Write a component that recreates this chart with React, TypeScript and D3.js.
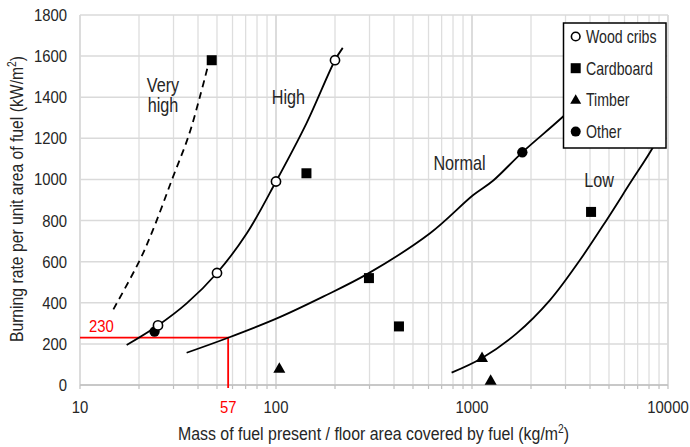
import React from "react";
import * as d3 from "d3";

const W = 690;
const H = 447;

// Tick labels
const xTicks = [10, 100, 1000, 10000];
const yTicks = [0, 200, 400, 600, 800, 1000, 1200, 1400, 1600, 1800];

// Data series (markers)
const woodCribsX = [25, 50, 100, 200];
const woodCribsY = [290, 545, 990, 1580];
const cardboardX = [47, 143, 298, 424, 4050];
const cardboardY = [1580, 1030, 520, 285, 842];
const timberX = [104, 1125, 1245];
const timberY = [80, 132, 22];
const otherX = [24, 1806];
const otherY = [260, 1132];

// Fire-load curves
const veryHighCurve: [number, number][] = [
  [14.8, 368], [20.2, 608], [24.1, 778], [29.4, 997], [35.7, 1208], [40.9, 1402], [45.3, 1565],
];
const highCurve: [number, number][] = [
  [17.3, 195], [25, 290], [35, 397], [50, 545], [71, 738], [100, 990], [143, 1273], [200, 1580], [219, 1640],
];
const normalCurve: [number, number][] = [
  [35, 157], [57, 230], [101, 324], [174, 430], [296, 543], [611, 738], [1015, 924], [1284, 995], [1806, 1132], [2870, 1300], [4200, 1450],
];
const lowCurve: [number, number][] = [
  [787, 60], [1121, 130], [1690, 251], [2500, 413], [3556, 608], [4866, 803], [6398, 981], [8414, 1159], [9600, 1270],
];

// Example reading
const exampleX = 57;
const exampleY = 230;

const curveLabels = [
  { lines: ["Very", "high"], x: 26.5, y: 1423 },
  { lines: ["High"], x: 115.6, y: 1365 },
  { lines: ["Normal"], x: 863, y: 1046 },
  { lines: ["Low"], x: 4450, y: 961 },
];

const legendItems = ["Wood cribs", "Cardboard", "Timber", "Other"];

const FONT = "'Liberation Sans', Arial, sans-serif";
const SX = 0.86;

function T(props: {
  x: number; y: number; size: number; anchor?: string; fill?: string; rot?: boolean; sx?: number; children: React.ReactNode;
}) {
  const { x, y, size, anchor = "start", fill = "#262626", rot = false, sx = SX, children } = props;
  return (
    <g transform={`translate(${x},${y})${rot ? " rotate(-90)" : ""} scale(${sx},1)`}>
      <text fontSize={size} textAnchor={anchor} fill={fill} fontFamily={FONT}>
        {children}
      </text>
    </g>
  );
}

export default function App() {
  const x = d3.scaleLog().domain([10, 10000]).range([80, 668]);
  const y = d3.scaleLinear().domain([0, 1800]).range([385, 15]);

  const minor: number[] = [];
  for (let dec = 10; dec < 10000; dec *= 10) {
    for (let k = 2; k <= 9; k++) minor.push(dec * k);
  }

  const line = d3
    .line<[number, number]>()
    .x((d) => x(d[0]))
    .y((d) => y(d[1]))
    .curve(d3.curveCatmullRom.alpha(0.5));

  const tri = (cx: number, cy: number, s: number) => {
    const h = s * 0.87;
    return `M${cx},${cy - h * 0.6} L${cx + s / 2},${cy + h * 0.4} L${cx - s / 2},${cy + h * 0.4} Z`;
  };

  const [x0, x1] = x.range();
  const [yb, yt] = y.range();

  const lgX = 563.5, lgY = 23, lgW = 102.5, lgH = 125;

  return (
    <svg width={W} height={H} style={{ position: "absolute", left: 0, top: 0, background: "#fff" }}>
      {/* grid */}
      {minor.map((m) => (
        <line key={"m" + m} x1={x(m)} x2={x(m)} y1={yt} y2={yb} stroke="#dedede" strokeWidth={1.3} />
      ))}
      {xTicks.map((t) => (
        <line key={"M" + t} x1={x(t)} x2={x(t)} y1={yt} y2={yb} stroke="#d0d0d0" strokeWidth={1.5} />
      ))}
      {yTicks.map((t) => (
        <line key={"h" + t} x1={x0} x2={x1} y1={y(t)} y2={y(t)} stroke="#dadada" strokeWidth={1.5} />
      ))}
      {/* x axis line and minor ticks */}
      <line x1={x0} x2={x1} y1={yb} y2={yb} stroke="#bfbfbf" strokeWidth={1.5} />
      {[...minor, ...xTicks].map((m) => (
        <line key={"t" + m} x1={x(m)} x2={x(m)} y1={yb} y2={yb + 4} stroke="#bfbfbf" strokeWidth={1.2} />
      ))}

      {/* y tick labels */}
      {yTicks.map((t) => (
        <T key={"yl" + t} x={67} y={y(t) + 6} size={17.3} anchor="end">
          {t}
        </T>
      ))}
      {/* x tick labels */}
      {xTicks.map((t) => (
        <T key={"xl" + t} x={x(t)} y={412.5} size={17.3} anchor="middle">
          {t}
        </T>
      ))}

      {/* red reading lines */}
      <path
        d={`M${x0},${y(exampleY)} H${x(exampleX)} V${yb + 3}`}
        fill="none"
        stroke="#ff0000"
        strokeWidth={1.8}
      />
      <T x={x(exampleX)} y={412.5} size={17.3} anchor="middle" fill="#ff0000">
        {exampleX}
      </T>
      <T x={89} y={331.5} size={17.3} fill="#ff0000">
        {exampleY}
      </T>

      {/* curves */}
      <path d={line(veryHighCurve) || ""} fill="none" stroke="#000" strokeWidth={1.8} strokeDasharray="7,5" />
      <path d={line(highCurve) || ""} fill="none" stroke="#000" strokeWidth={1.8} />
      <path d={line(normalCurve) || ""} fill="none" stroke="#000" strokeWidth={1.8} />
      <path d={line(lowCurve) || ""} fill="none" stroke="#000" strokeWidth={1.8} />

      {/* curve labels */}
      {curveLabels.map((l) =>
        l.lines.map((s, i) => (
          <T key={s} x={x(l.x)} y={y(l.y) + i * 20} size={19.5} sx={0.83} anchor="middle">
            {s}
          </T>
        ))
      )}

      {/* markers */}
      {otherX.map((v, i) => (
        <circle key={"o" + i} cx={x(v)} cy={y(otherY[i])} r={5.2} fill="#000" />
      ))}
      {woodCribsX.map((v, i) => (
        <circle key={"w" + i} cx={x(v)} cy={y(woodCribsY[i])} r={4.6} fill="#fff" stroke="#000" strokeWidth={1.6} />
      ))}
      {cardboardX.map((v, i) => (
        <rect key={"c" + i} x={x(v) - 5} y={y(cardboardY[i]) - 5} width={10} height={10} fill="#000" />
      ))}
      {timberX.map((v, i) => (
        <path key={"tb" + i} d={tri(x(v), y(timberY[i]), 12)} fill="#000" />
      ))}

      {/* legend */}
      <rect x={lgX} y={lgY} width={lgW} height={lgH} fill="#fff" stroke="#000" strokeWidth={1.5} />
      {legendItems.map((name, i) => {
        const cy = 36.5 + i * 31.7;
        const cx = 575.7;
        let sym: React.ReactNode = null;
        if (i === 0) sym = <circle cx={cx} cy={cy} r={4.3} fill="#fff" stroke="#000" strokeWidth={1.6} />;
        if (i === 1) sym = <rect x={cx - 5} y={cy - 5} width={10} height={10} fill="#000" />;
        if (i === 2) sym = <path d={tri(cx, cy, 11)} fill="#000" />;
        if (i === 3) sym = <circle cx={cx} cy={cy} r={5} fill="#000" />;
        return (
          <g key={name}>
            {sym}
            <T x={586} y={cy + 6.5} size={17.5} sx={0.81}>
              {name}
            </T>
          </g>
        );
      })}

      {/* axis titles */}
      <T x={373.5} y={440} size={18.5} anchor="middle">
        Mass of fuel present / floor area covered by fuel (kg/m
        <tspan dy={-7} fontSize={12}>2</tspan>
        <tspan dy={7}>)</tspan>
      </T>
      <T x={23} y={199} size={18.3} anchor="middle" rot>
        Burning rate per unit area of fuel (kW/m
        <tspan dy={-7} fontSize={12}>2</tspan>
        <tspan dy={7}>)</tspan>
      </T>
    </svg>
  );
}
